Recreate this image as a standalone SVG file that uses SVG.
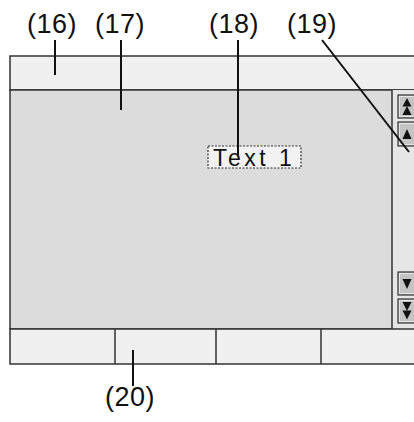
<svg xmlns="http://www.w3.org/2000/svg" width="414" height="422" viewBox="0 0 414 422">
<style>
.lbl{font-family:"Liberation Sans",Arial,sans-serif;font-size:27px;letter-spacing:0.5px;fill:#111}
.frm{stroke:#333;stroke-width:1.5}
.btn{fill:#c4c4c4;stroke:#333;stroke-width:1.2}
.hl{fill:none;stroke:#e6e6e6;stroke-width:1}
.lead{stroke:#111;stroke-width:2;fill:none}
.tri{fill:#111}
</style>
<rect width="414" height="422" fill="#fff"/>
<g id="window">
<rect x="10" y="56" width="410" height="34" fill="#f0f0f0" class="frm"/>
<rect x="10" y="90" width="410" height="239" fill="#dcdcdc" class="frm"/>
<rect x="392" y="90" width="30" height="239" fill="#e6e6e6" stroke="none"/>
<line x1="392" y1="90" x2="392" y2="329" class="frm"/>
<rect x="10" y="329" width="410" height="35" fill="#f0f0f0" class="frm"/>
<line x1="115" y1="329" x2="115" y2="364" class="frm"/>
<line x1="216" y1="329" x2="216" y2="364" class="frm"/>
<line x1="321" y1="329" x2="321" y2="364" class="frm"/>
</g>
<g id="scroll">
<rect x="398" y="95" width="20" height="23" class="btn"/>
<rect x="399.5" y="96.5" width="17" height="20" class="hl"/>
<rect x="398" y="122" width="20" height="24" class="btn"/>
<rect x="399.5" y="123.5" width="17" height="21" class="hl"/>
<rect x="398" y="272" width="20" height="23" class="btn"/>
<rect x="399.5" y="273.5" width="17" height="20" class="hl"/>
<rect x="398" y="299" width="20" height="24" class="btn"/>
<rect x="399.5" y="300.5" width="17" height="21" class="hl"/>
<polygon points="407,98 402.5,106.5 411.5,106.5" class="tri"/>
<polygon points="407,106 402.5,115 411.5,115" class="tri"/>
<polygon points="407,129 402.5,139 411.5,139" class="tri"/>
<polygon points="402.5,279 411.5,279 407,289" class="tri"/>
<polygon points="402.5,302 411.5,302 407,311" class="tri"/>
<polygon points="402.5,310.5 411.5,310.5 407,319.5" class="tri"/>
</g>
<g id="textbox">
<rect x="208" y="146" width="93" height="22" fill="#f2f2f2" stroke="#333" stroke-width="1.2" stroke-dasharray="2,1.5"/>
<text x="213" y="166" class="lbl" style="font-size:23px;letter-spacing:3.5px">Text 1</text>
</g>
<g id="connectors">
<line x1="55" y1="40" x2="55" y2="75" class="lead"/>
<line x1="121" y1="40" x2="121" y2="110" class="lead"/>
<line x1="238" y1="40" x2="238" y2="155" class="lead"/>
<line x1="322" y1="40" x2="409" y2="152" class="lead"/>
<line x1="133" y1="350" x2="133" y2="386" class="lead"/>
</g>
<g id="labels">
<text x="27" y="33" class="lbl">(16)</text>
<text x="95" y="33" class="lbl">(17)</text>
<text x="209" y="33" class="lbl">(18)</text>
<text x="287" y="33" class="lbl">(19)</text>
<text x="105" y="406" class="lbl">(20)</text>
</g>
</svg>
